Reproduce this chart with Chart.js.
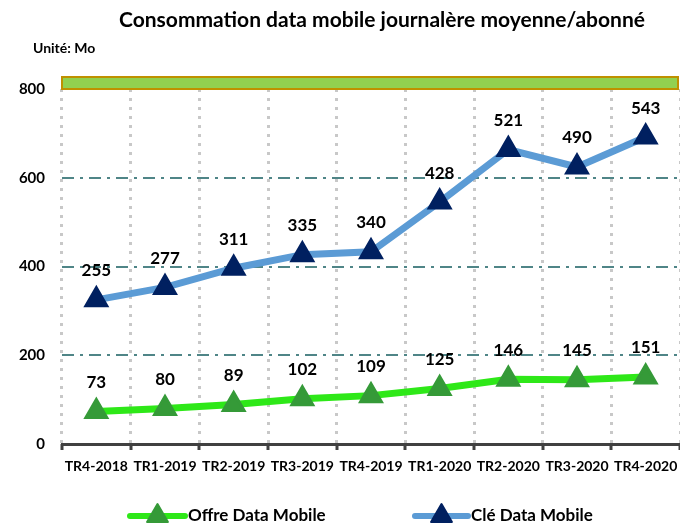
<!DOCTYPE html>
<html>
<head>
<meta charset="utf-8">
<script src="https://cdn.jsdelivr.net/npm/chart.js"></script>
<style>
  html, body { margin: 0; padding: 0; background: #fff; overflow: hidden; }
  #wrap { width: 695px; height: 523px; }
</style>
</head>
<body>
<div id="wrap"><canvas id="chart" width="695" height="523"></canvas></div>
<script>
// Chart data
const quarters = ['TR4-2018', 'TR1-2019', 'TR2-2019', 'TR3-2019', 'TR4-2019', 'TR1-2020', 'TR2-2020', 'TR3-2020', 'TR4-2020'];
const offreData = [73, 80, 89, 102, 109, 125, 146, 145, 151];
const cleData = [255, 277, 311, 335, 340, 428, 521, 490, 543];
const yTicks = [0, 200, 400, 600, 800];

const FONT = "Lato, 'Open Sans', sans-serif";
const GREEN_LINE = '#2ee818';
const GREEN_MARK = '#359a38';
const BLUE_LINE = '#5b9bd5';
const BLUE_MARK = '#002060';

// Draws title, unit, top band, value labels, axis ticks and legend
const decorations = {
    id: 'decorations',
    beforeDatasetsDraw(chart) {
        const ctx = chart.ctx;
        const area = chart.chartArea;
        const y = chart.scales.y;
        // band above the plot
        ctx.save();
        ctx.fillStyle = '#92d050';
        ctx.strokeStyle = '#bf9000';
        ctx.lineWidth = 2;
        const top = y.getPixelForValue(800) - 12;
        ctx.fillRect(area.left, top, 680 - area.left - 2, 12);
        ctx.strokeRect(area.left, top, 680 - area.left - 2, 12);
        ctx.restore();
    },
    afterDatasetsDraw(chart) {
        const ctx = chart.ctx;
        const x = chart.scales.x;
        const area = chart.chartArea;
        ctx.save();

        // tick marks under the x axis
        ctx.strokeStyle = '#404040';
        ctx.lineWidth = 3;
        const step = x.getPixelForValue(1) - x.getPixelForValue(0);
        for (let i = 0; i <= quarters.length; i++) {
            const px = Math.round(x.getPixelForValue(i) - step / 2);
            ctx.beginPath();
            ctx.moveTo(px, area.bottom);
            ctx.lineTo(px, area.bottom + 6);
            ctx.stroke();
        }

        // value labels
        ctx.fillStyle = '#000';
        ctx.font = 'bold 17px ' + FONT;
        ctx.textAlign = 'center';
        ctx.textBaseline = 'middle';
        chart.data.datasets.forEach((ds, di) => {
            const meta = chart.getDatasetMeta(di);
            meta.data.forEach((pt, i) => {
                ctx.fillText(ds.data[i], pt.x, pt.y - 29);
            });
        });

        // title and unit
        ctx.font = 'bold 21px ' + FONT;
        ctx.fillText('Consommation data mobile journalère moyenne/abonné', 382, 20);
        ctx.font = 'bold 14px ' + FONT;
        ctx.textAlign = 'left';
        ctx.fillText('Unité: Mo', 33, 48);

        // legend
        const items = [
            { x1: 130, x2: 185, line: GREEN_LINE, mark: GREEN_MARK, text: 'Offre Data Mobile' },
            { x1: 415, x2: 468, line: BLUE_LINE, mark: BLUE_MARK, text: 'Clé Data Mobile' }
        ];
        const ly = 516;
        items.forEach(it => {
            ctx.strokeStyle = it.line;
            ctx.lineWidth = 6;
            ctx.lineCap = 'round';
            ctx.beginPath();
            ctx.moveTo(it.x1, ly);
            ctx.lineTo(it.x2, ly);
            ctx.stroke();
            const cx = (it.x1 + it.x2) / 2, r = 12;
            ctx.fillStyle = it.mark;
            ctx.strokeStyle = it.mark;
            ctx.lineWidth = 2;
            ctx.lineJoin = 'round';
            ctx.beginPath();
            ctx.moveTo(cx, ly - r);
            ctx.lineTo(cx + r * 0.87, ly + r / 2);
            ctx.lineTo(cx - r * 0.87, ly + r / 2);
            ctx.closePath();
            ctx.fill();
            ctx.stroke();
            ctx.fillStyle = '#000';
            ctx.font = 'bold 17px ' + FONT;
            ctx.textAlign = 'left';
            ctx.fillText(it.text, it.x2 + 3, ly);
        });
        ctx.restore();
    }
};

new Chart(document.getElementById('chart'), {
    type: 'line',
    data: {
        labels: quarters,
        datasets: [
            {
                label: 'Offre Data Mobile',
                data: offreData,
                yAxisID: 'y',
                borderColor: GREEN_LINE,
                borderWidth: 7,
                pointStyle: 'triangle',
                pointRadius: 12,
                pointBorderWidth: 3,
                pointBackgroundColor: GREEN_MARK,
                pointBorderColor: GREEN_MARK,
                tension: 0
            },
            {
                label: 'Clé Data Mobile',
                data: cleData,
                yAxisID: 'y2',
                borderColor: BLUE_LINE,
                borderWidth: 7,
                pointStyle: 'triangle',
                pointRadius: 12,
                pointBorderWidth: 3,
                pointBackgroundColor: BLUE_MARK,
                pointBorderColor: BLUE_MARK,
                tension: 0
            }
        ]
    },
    options: {
        responsive: false,
        animation: false,
        layout: { padding: { top: 89, right: 0, bottom: 0, left: 0 } },
        plugins: {
            legend: { display: false },
            tooltip: { enabled: false },
            title: { display: false }
        },
        scales: {
            x: {
                offset: true,
                grid: {
                    offset: true,
                    drawTicks: false,
                    color: '#c8c8c8',
                    lineWidth: 3
                },
                border: { display: true, color: '#404040', width: 3, dash: [3, 6] },
                ticks: {
                    color: '#000',
                    font: { family: FONT, weight: 'bold', size: 14 },
                    padding: 14,
                    maxRotation: 0,
                    autoSkip: false
                },
                afterFit(scale) { scale.height = 79; }
            },
            y: {
                min: 0,
                max: 800,
                afterBuildTicks(scale) { scale.ticks = yTicks.map(v => ({ value: v })); },
                grid: {
                    drawTicks: false,
                    color: ctx => (ctx.tick && (ctx.tick.value === 0 || ctx.tick.value === 800)) ? 'rgba(0,0,0,0)' : '#4f8587',
                    lineWidth: 2
                },
                border: { display: false, dash: [12, 6, 3, 6] },
                ticks: {
                    color: '#000',
                    font: { family: FONT, weight: 'bold', size: 15 },
                    padding: 17
                },
                afterFit(scale) { scale.width = 62; }
            },
            y2: {
                display: false,
                min: 0,
                max: 628
            }
        }
    },
    plugins: [decorations]
});
</script>
</body>
</html>
